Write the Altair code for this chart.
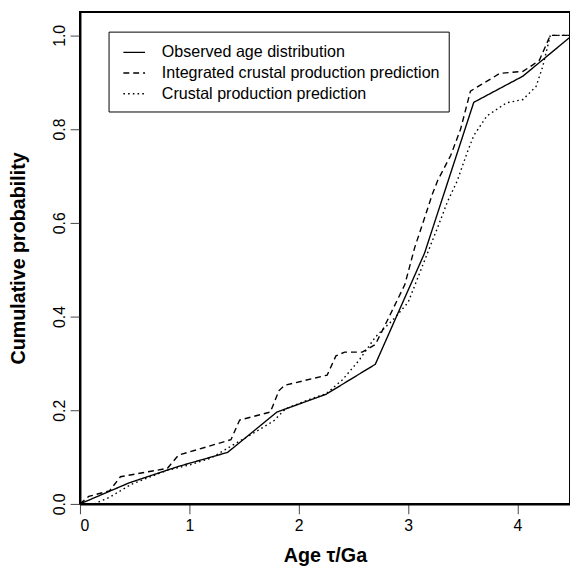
import altair as alt
import pandas as pd

series_names = [
    "Observed age distribution",
    "Integrated crustal production prediction",
    "Crustal production prediction",
]

obs_age = [0, 0.45, 0.9, 1.35, 1.8, 2.25, 2.7, 3.15, 3.6, 4.05, 4.5]
obs_prob = [0, 0.045, 0.08, 0.11, 0.196, 0.234, 0.298, 0.535, 0.857, 0.913, 1.0]

int_age = [0, 0.03, 0.08, 0.27, 0.37, 0.8, 0.9, 1.38, 1.46, 1.74, 1.82, 1.87, 2.26, 2.34,
           2.42, 2.58, 2.7, 2.79, 2.97, 3.06, 3.15, 3.22, 3.27, 3.39, 3.48, 3.57, 3.84,
           4.05, 4.14, 4.2, 4.3, 4.5]
int_prob = [0, 0.006, 0.016, 0.028, 0.058, 0.076, 0.104, 0.137, 0.179, 0.196, 0.242, 0.253,
            0.275, 0.316, 0.324, 0.324, 0.34, 0.382, 0.468, 0.547, 0.61, 0.66, 0.69, 0.744,
            0.80, 0.881, 0.919, 0.923, 0.937, 0.947, 1.0, 1.0]

crust_age = [0, 0.13, 0.27, 0.47, 0.8, 1.0, 1.2, 1.4, 1.55, 1.77, 1.88, 2.12, 2.25, 2.4,
             2.55, 2.7, 2.87, 3.0, 3.18, 3.27, 3.36, 3.45, 3.54, 3.6, 3.72, 3.9, 4.05,
             4.17, 4.23, 4.3, 4.5]
crust_prob = [0, 0.0, 0.014, 0.042, 0.072, 0.083, 0.098, 0.126, 0.146, 0.177, 0.203, 0.225,
              0.235, 0.265, 0.306, 0.356, 0.395, 0.43, 0.537, 0.59, 0.645, 0.69, 0.75,
              0.786, 0.828, 0.856, 0.863, 0.891, 0.933, 1.0, 1.0]

x_ticks = [0, 1, 2, 3, 4]
y_ticks = [0.0, 0.2, 0.4, 0.6, 0.8, 1.0]

rows = []
for name, ages, probs in [
    (series_names[0], obs_age, obs_prob),
    (series_names[1], int_age, int_prob),
    (series_names[2], crust_age, crust_prob),
]:
    for i, (a, p) in enumerate(zip(ages, probs)):
        rows.append({"series": name, "age": a, "prob": p, "order": i})
df = pd.DataFrame(rows)

FONT = "Liberation Sans"

chart = (
    alt.Chart(df)
    .mark_line(clip=True, color="black", strokeWidth=1.4)
    .encode(
        x=alt.X(
            "age:Q",
            scale=alt.Scale(domain=[0, 4.48], nice=False, zero=False),
            axis=alt.Axis(values=x_ticks, format="d", title="Age τ/Ga",
                          labelPadding=4, titlePadding=12),
        ),
        y=alt.Y(
            "prob:Q",
            scale=alt.Scale(domain=[0, 1.05], nice=False),
            axis=alt.Axis(values=y_ticks, format=".1f", title="Cumulative probability",
                          labelAngle=270, labelAlign="center", labelBaseline="bottom",
                          labelPadding=3, titlePadding=23),
        ),
        strokeDash=alt.StrokeDash(
            "series:N",
            scale=alt.Scale(domain=series_names, range=[[1, 0], [6, 4], [1.6, 3.2]]),
            legend=alt.Legend(
                title=None, orient="none", legendX=29, legendY=20,
                strokeColor="black", padding=9, fillColor="white",
                symbolType="stroke", symbolSize=484, symbolStrokeWidth=1.4,
                symbolStrokeColor="black", symbolOffset=5, labelOffset=16,
                rowPadding=-1,
                labelFont=FONT, labelFontSize=16.3, labelColor="black",
                labelLimit=400,
            ),
        ),
        order="order:Q",
    )
    .properties(
        width=497,
        height=499,
        autosize=alt.AutoSizeParams(type="none"),
        padding={"left": 73, "top": 0, "right": 0, "bottom": 60},
        background="white",
    )
    .configure_view(stroke="black", strokeWidth=2)
    .configure_axis(
        grid=False,
        domainColor="black", domainWidth=2,
        tickColor="#444", tickWidth=1, tickSize=10,
        labelFont=FONT, labelFontSize=16, labelColor="black",
        titleFont=FONT, titleFontSize=20, titleFontWeight="bold", titleColor="black",
    )
)

chart.save("out.html", embed_options={"renderer": "svg", "actions": False})
